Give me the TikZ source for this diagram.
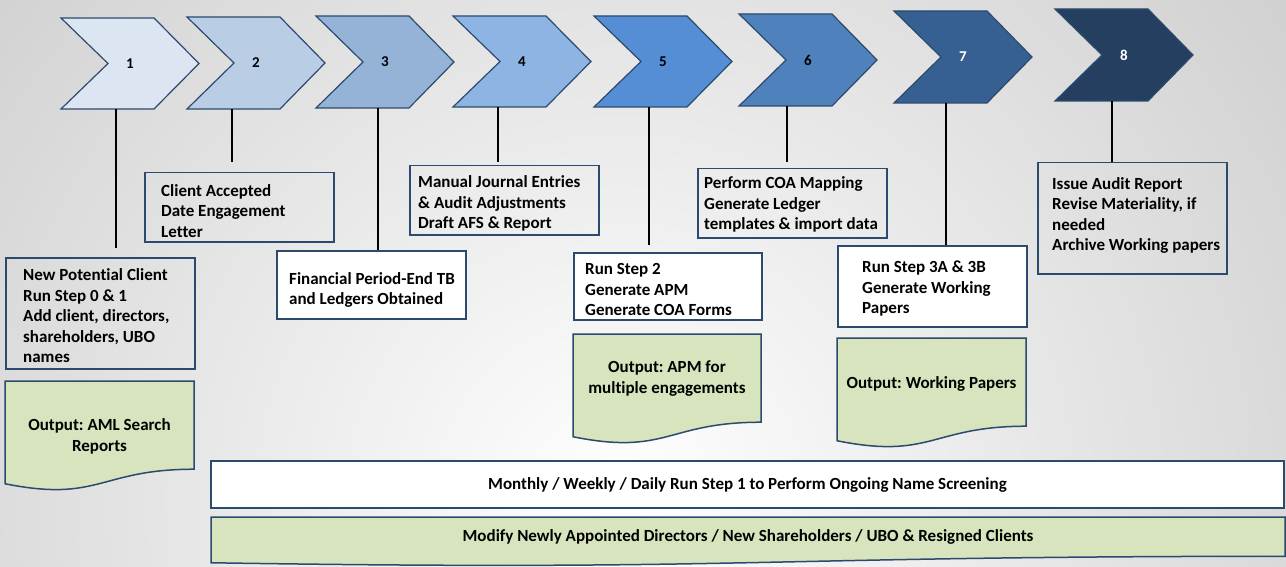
\documentclass[tikz,border=0pt]{standalone}
\usepackage{fontspec}
\setmainfont[Ligatures={NoCommon}]{Carlito}
\frenchspacing
\definecolor{edgeblue}{HTML}{2C4A6E}
\definecolor{outgreen}{HTML}{D7E4BD}
\definecolor{bgouter}{HTML}{A0A0A0}
\definecolor{ch1}{HTML}{DCE6F2}
\definecolor{ch2}{HTML}{B9CDE5}
\definecolor{ch3}{HTML}{95B3D7}
\definecolor{ch4}{HTML}{8EB4E3}
\definecolor{ch5}{HTML}{558ED5}
\definecolor{ch6}{HTML}{4F81BD}
\definecolor{ch7}{HTML}{376092}
\definecolor{ch8}{HTML}{243F60}
\tikzset{
  chev/.style={draw=edgeblue, line width=1.2pt},
  num/.style={font=\fontsize{15}{18}\selectfont\bfseries, minimum width=138, inner sep=0, outer sep=0},
  stepbox/.style={draw=edgeblue, line width=1.5pt, anchor=north west, inner sep=0},
  steptext/.style={align=left, anchor=west, inner sep=0, font=\fontsize{17}{20.5}\selectfont\bfseries},
  outdoc/.style={fill=outgreen, draw=edgeblue, line width=1.5pt},
  outtext/.style={align=center, font=\fontsize{17}{21}\selectfont\bfseries},
  link/.style={line width=1.4pt}
}
\begin{document}
\begin{tikzpicture}[x=1pt, y=-1pt]
	\useasboundingbox (0,0) rectangle (1286,567);
	\begin{scope}
		\clip (0,0) rectangle (1286,567);
		\shade[inner color=white, outer color=bgouter] (620,500) circle (1700pt);
	\end{scope}
	\foreach \i/\x/\t/\b/\col/\tc in {1/61/18/109/ch1/black, 2/187/17/109/ch2/black, 3/316/16/108/ch3/black, 4/453/16/107/ch4/black, 5/594/16/107/ch5/black, 6/739/14/106/ch6/black, 7/894/11/103/ch7/white, 8/1055/9/101/ch8/white} {
		\filldraw[chev, fill=\col] (\x,\t) -- (\x+93,\t) -- (\x+138,{(\t+\b)/2}) -- (\x+93,\b) -- (\x,\b) -- (\x+47,{(\t+\b)/2}) -- cycle;
		\node[num, text=\tc, minimum height={\b-\t}] (c\i) at (\x+69,{(\t+\b)/2}) {\i};
	}
	\node[stepbox, minimum width=189, minimum height=111] (b1) at (5,257) {};
	\node[steptext] (t1) at ([xshift=18pt, yshift=-2.5pt]b1.west) {New Potential Client\\Run Step 0 \& 1\\Add client, directors,\\shareholders, UBO\\names};
	\node[stepbox, minimum width=189, minimum height=69] (b2) at (144,172) {};
	\node[steptext] (t2) at ([xshift=17pt, yshift=-3.5pt]b2.west) {Client Accepted\\Date Engagement\\Letter};
	\node[stepbox, fill=white, minimum width=189, minimum height=68] (b3) at (276,250) {};
	\node[steptext] (t3) at ([xshift=13pt, yshift=-5pt]b3.west) {Financial Period-End TB\\and Ledgers Obtained};
	\node[stepbox, minimum width=189, minimum height=69] (b4) at (409,165) {};
	\node[steptext] (t4) at ([xshift=9pt, yshift=-3.5pt]b4.west) {Manual Journal Entries\\\& Audit Adjustments\\Draft AFS \& Report};
	\node[stepbox, fill=white, minimum width=188, minimum height=67] (b5) at (573,252) {};
	\node[steptext] (t5) at ([xshift=12pt, yshift=-3.5pt]b5.west) {Run Step 2\\Generate APM\\Generate COA Forms};
	\node[stepbox, minimum width=189, minimum height=69] (b6) at (697,168) {};
	\node[steptext] (t6) at ([xshift=7pt, yshift=-1.5pt]b6.west) {Perform COA Mapping\\Generate Ledger\\templates \& import data};
	\node[stepbox, fill=white, minimum width=189, minimum height=81] (b7) at (837,245) {};
	\node[steptext] (t7) at ([xshift=25pt, yshift=-2.5pt]b7.west) {Run Step 3A \& 3B\\Generate Working\\Papers};
	\node[stepbox, minimum width=189, minimum height=111] (b8) at (1037,162) {};
	\node[steptext] (t8) at ([xshift=15pt, yshift=3pt]b8.west) {Issue Audit Report\\Revise Materiality, if\\needed\\Archive Working papers};
	\foreach \i/\x/\y in {1/116/248, 2/232/162, 3/378/250, 4/498/162, 5/649/245, 6/787/162, 7/946/245, 8/1112/162} {
		\coordinate (e\i) at (\x,\y);
		\draw[link] (e\i |- c\i.south) -- (e\i);
	}
	\foreach \xa/\xb/\t/\h in {5/194/381/110, 573/761/334/110, 837/1026/338/110, 211/1285/517/49} {
		\filldraw[outdoc] (\xa,\t) -- (\xb,\t) -- (\xb,\t+0.802*\h) .. controls ({(\xa+\xb)/2},\t+0.802*\h) and ({(\xa+\xb)/2},\t+1.107*\h) .. (\xa,\t+0.934*\h) -- cycle;
	}
	\node[outtext] (o1) at (99.5,436) {Output: AML Search\\Reports};
	\node[outtext] (o5) at (667,379) {Output: APM for\\multiple engagements};
	\node[outtext] (o7) at (931.5,384) {Output: Working Papers};
	\node[draw=edgeblue, line width=1.5pt, fill=white, minimum width=1073, minimum height=47, font=\fontsize{17}{21}\selectfont\bfseries] (r1) at (747.5,484.5) {Monthly / Weekly / Daily Run Step 1 to Perform Ongoing Name Screening};
	\node[outtext] (r2) at (748,537) {Modify Newly Appointed Directors / New Shareholders / UBO \& Resigned Clients};
\end{tikzpicture}
\end{document}
